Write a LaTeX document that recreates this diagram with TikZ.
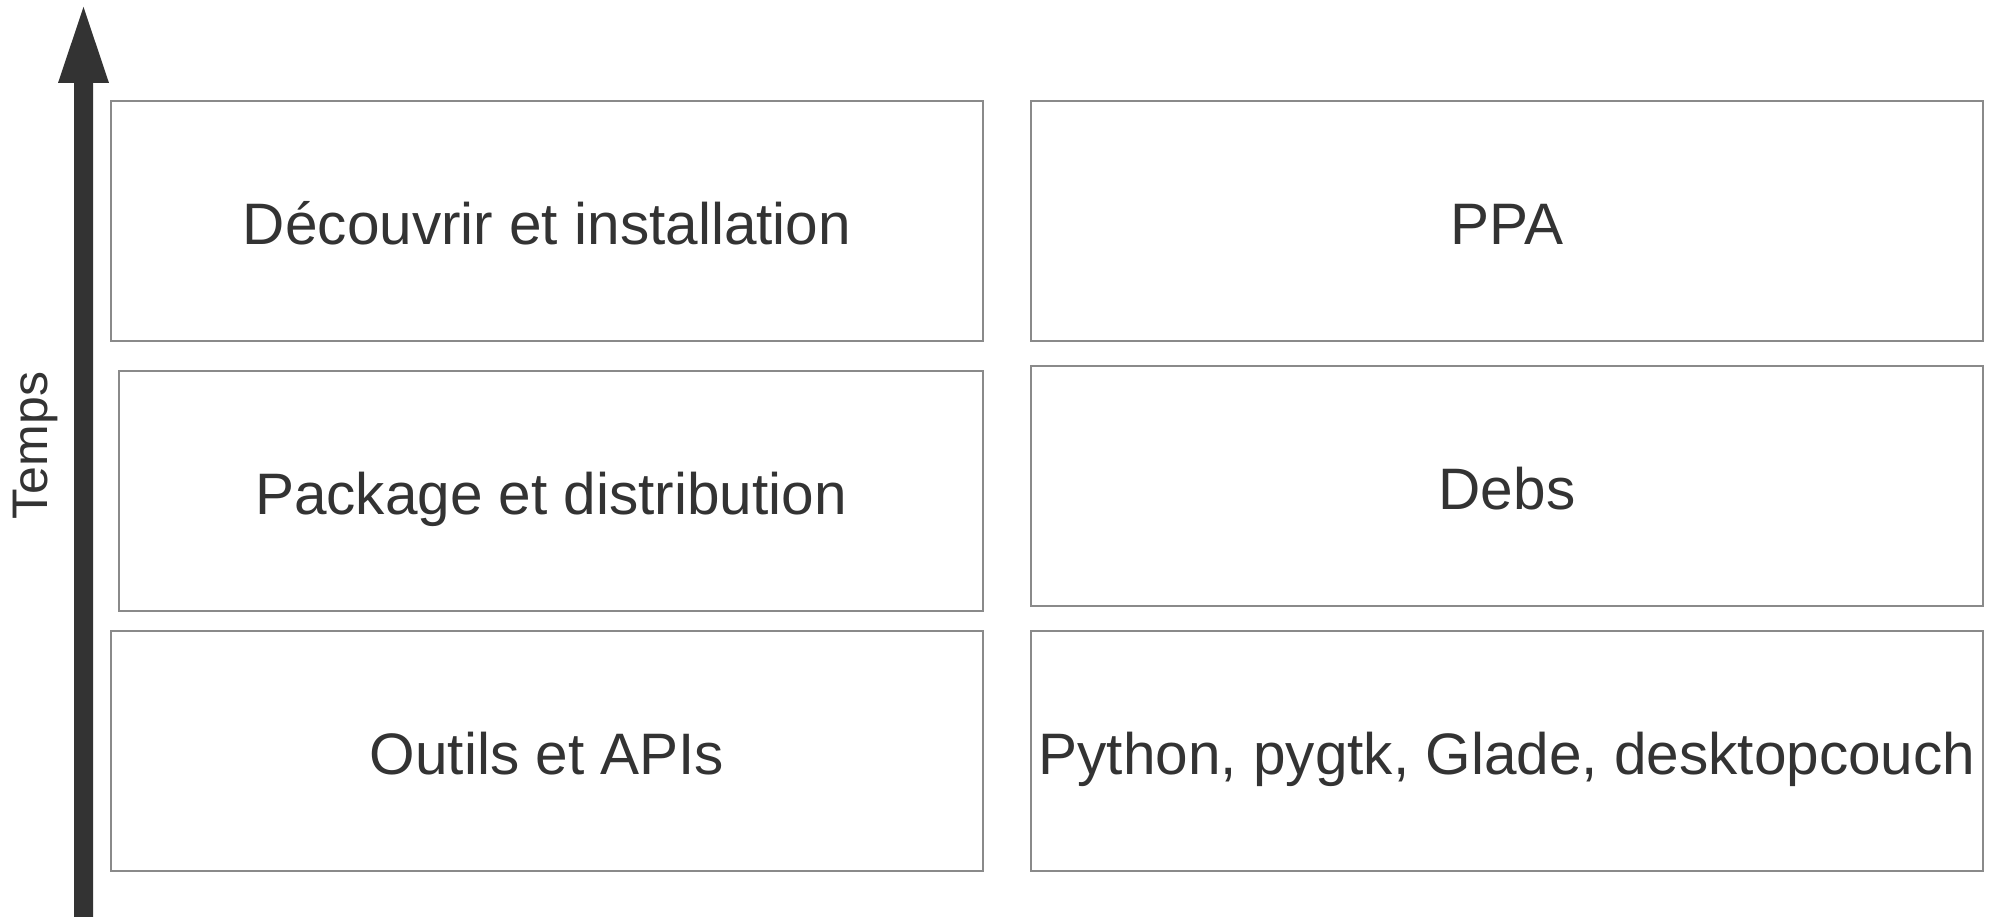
\documentclass[tikz,border=0pt]{standalone}
\usepackage{fontspec}
\setmainfont{Liberation Sans}
\definecolor{ink}{HTML}{333333}
\definecolor{edge}{HTML}{8A8A8A}
\tikzset{
  layer/.style={draw=edge, line width=1.5pt, fill=white, text=ink, inner sep=0pt,
    text height=47pt, text depth=0pt,
    font=\fontsize{58.5}{70}\selectfont},
}
\begin{document}
\begin{tikzpicture}[x=1pt,y=1pt]
\useasboundingbox (0,0) rectangle (1997,917);
% left column
\node[layer, minimum width=872pt, minimum height=240pt] (l1) at (547,696) {Découvrir et installation};
\node[layer, minimum width=864pt, minimum height=240pt] (l2) at (551,426) {Package et distribution};
\node[layer, minimum width=872pt, minimum height=240pt] (l3) at (547,166) {Outils et APIs};
% right column
\node[layer, minimum width=952pt, minimum height=240pt] (r1) at (1507,696) {PPA};
\node[layer, minimum width=952pt, minimum height=240pt] (r2) at (1507,431) {Debs};
\node[layer, minimum width=952pt, minimum height=240pt] (r3) at (1507,166) {Python, pygtk, Glade, desktopcouch};
% time arrow
\coordinate (abot) at (83.5,0);
\coordinate (atip) at (83.5,910);
\fill[ink] ([xshift=-9.5pt]abot) -- ([xshift=-9.5pt,yshift=834]abot) -- ([xshift=-25.5pt,yshift=834]abot)
  -- (atip) -- ([xshift=25.5pt,yshift=834]abot) -- ([xshift=9.5pt,yshift=834]abot) -- ([xshift=9.5pt]abot) -- cycle;
\node[text=ink, rotate=90, font=\fontsize{50}{60}\selectfont] (temps) at (35,471.5) {Temps};
\end{tikzpicture}
\end{document}
